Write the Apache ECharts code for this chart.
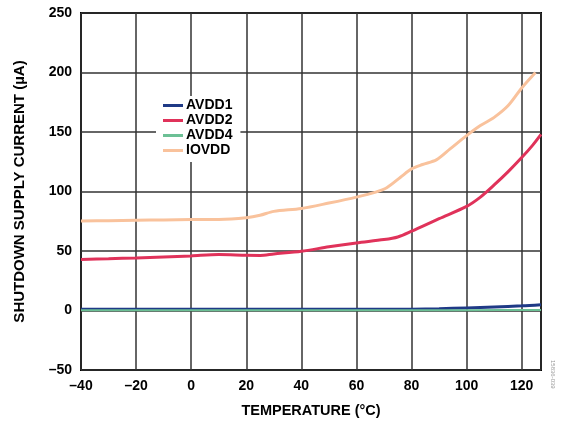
<!DOCTYPE html>
<html>
<head>
<meta charset="utf-8">
<script src="https://cdn.jsdelivr.net/npm/echarts@6/dist/echarts.min.js"></script>
<style>
html,body{margin:0;padding:0;background:#fff;}
#chart{width:562px;height:423px;}
</style>
</head>
<body>
<div id="chart"></div>
<script>
// ---- data ----
const seriesNames = ['AVDD1', 'AVDD2', 'AVDD4', 'IOVDD'];
const xTicks = [-40, -20, 0, 20, 40, 60, 80, 100, 120];
const yTicks = [-50, 0, 50, 100, 150, 200, 250];

const avdd1Temp = [-40, -20, 0, 20, 40, 60, 80, 90, 100, 110, 120, 127];
const avdd1Vals = [1.0, 1.0, 1.0, 1.0, 1.0, 1.0, 1.1, 1.5, 2.2, 3.0, 3.9, 4.9];

const avdd2Temp = [-40, -30, -20, -10, 0, 10, 20, 25, 30, 40, 50, 60, 70, 75, 80, 90, 100, 105, 110, 115, 120, 124, 127];
const avdd2Vals = [42.9, 43.5, 44.2, 45.0, 45.9, 47.0, 46.4, 46.3, 47.5, 49.8, 53.5, 56.8, 59.6, 61.8, 66.6, 77.2, 87.5, 95.3, 105.5, 116.5, 128.5, 139, 148];

const avdd4Temp = [-40, 0, 40, 80, 100, 127];
const avdd4Vals = [0.2, 0.2, 0.2, 0.2, 0.3, 0.5];

const iovddTemp = [-40, -30, -20, -10, 0, 10, 20, 25, 30, 40, 50, 60, 67, 71, 76, 80, 84, 89, 94, 100, 105, 110, 115, 120, 125];
const iovddVals = [75.2, 75.5, 75.8, 76.1, 76.4, 76.5, 78.0, 80.0, 83.3, 85.7, 90.3, 95.3, 99.5, 103.2, 112, 119, 122.7, 126.6, 135.8, 147, 155.4, 162.3, 172, 187, 200];

const colors = ['#1f3a86', '#e0325a', '#6cc095', '#f9c29c'];

function pairs(t, v) { return t.map((x, i) => [x, v[i]]); }
const dataSets = [
  pairs(avdd1Temp, avdd1Vals),
  pairs(avdd2Temp, avdd2Vals),
  pairs(avdd4Temp, avdd4Vals),
  pairs(iovddTemp, iovddVals)
];

function fmt(v) { return v < 0 ? '\u2013' + Math.abs(v) : String(v); }

const font = '"Liberation Sans", Arial, sans-serif';
const chart = echarts.init(document.getElementById('chart'), null, { renderer: 'canvas' });

chart.setOption({
  animation: false,
  backgroundColor: '#fff',
  grid: { left: 81, top: 13, right: 21, bottom: 53, show: true, borderColor: '#000', borderWidth: 2, backgroundColor: 'transparent' },
  xAxis: {
    type: 'value', min: -40, max: 127, interval: 20,
    axisLine: { show: false },
    axisTick: { show: false },
    splitLine: { show: true, lineStyle: { color: '#333', width: 1.5 } },
    axisLabel: {
      margin: 9, color: '#000', fontFamily: font, fontWeight: 'bold', fontSize: 14,
      showMaxLabel: false,
      formatter: v => (xTicks.indexOf(v) >= 0 ? fmt(v) : '')
    },
    name: 'TEMPERATURE (°C)', nameLocation: 'middle', nameGap: 33,
    nameTextStyle: { color: '#000', fontFamily: font, fontWeight: 'bold', fontSize: 14.5 }
  },
  yAxis: {
    type: 'value', min: -50, max: 250, interval: 50,
    axisLine: { show: false },
    axisTick: { show: false },
    splitLine: { show: true, lineStyle: { color: '#333', width: 1.5 } },
    axisLabel: {
      margin: 9, color: '#000', fontFamily: font, fontWeight: 'bold', fontSize: 14,
      formatter: v => (yTicks.indexOf(v) >= 0 ? fmt(v) : '')
    },
    name: 'SHUTDOWN SUPPLY CURRENT (µA)', nameLocation: 'middle', nameGap: 54,
    nameTextStyle: { color: '#000', fontFamily: font, fontWeight: 'bold', fontSize: 15 }
  },
  legend: {
    show: true, orient: 'vertical', left: 156, top: 96,
    backgroundColor: '#fff', padding: [2, 8, 4, 7], itemGap: 0,
    itemWidth: 20, itemHeight: 3, icon: 'rect',
    textStyle: { color: '#000', fontFamily: font, fontWeight: 'bold', fontSize: 14, lineHeight: 15, padding: [0, 0, 0, -2] },
    data: seriesNames
  },
  graphic: [{
    type: 'text', left: 550, top: 360, rotation: -Math.PI / 2,
    style: { text: '15836-039', fill: '#999', font: '6px ' + font }
  }],
  series: seriesNames.map((n, i) => ({
    name: n, type: 'line', data: dataSets[i], smooth: 0.3,
    showSymbol: false, symbol: 'none', clip: true,
    lineStyle: { color: colors[i], width: i === 2 ? 2 : 3 },
    itemStyle: { color: colors[i] },
    z: [3, 3, 4, 3][i]
  }))
});
</script>
</body>
</html>
